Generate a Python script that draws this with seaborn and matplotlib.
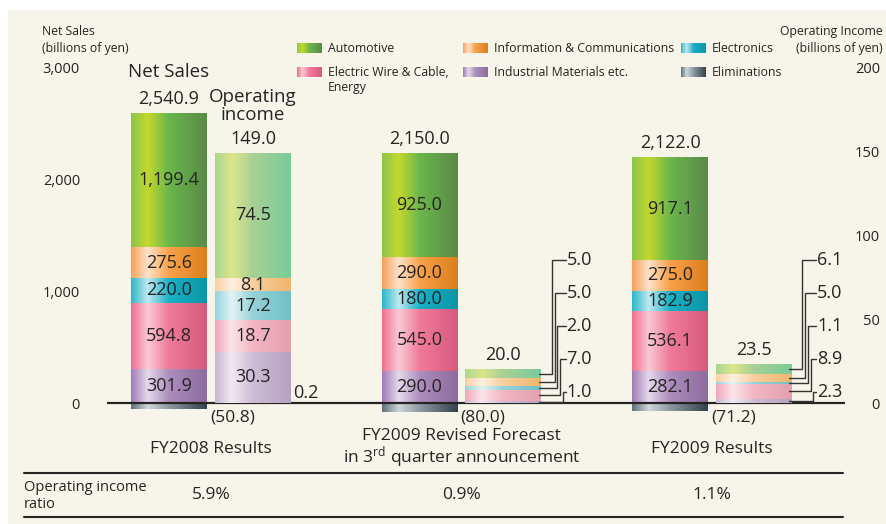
import numpy as np
import matplotlib
matplotlib.use("Agg")
import matplotlib.pyplot as plt
import seaborn as sns
from matplotlib.colors import LinearSegmentedColormap
from matplotlib.patches import Rectangle
from matplotlib.transforms import blended_transform_factory

sns.set_style("white")
plt.rcParams["font.family"] = ["Open Sans", "DejaVu Sans"]
plt.rcParams["mathtext.fontset"] = "custom"
plt.rcParams["mathtext.rm"] = "Open Sans"
plt.rcParams["mathtext.it"] = "Open Sans:italic"
plt.rcParams["mathtext.bf"] = "Open Sans:bold"

# ---- data (billions of yen) ----
groups = [
    "FY2008 Results",
    "FY2009 Revised Forecast\nin 3$^{\\mathrm{rd}}$ quarter announcement",
    "FY2009 Results",
]
segment_names = {
    "automotive": "Automotive",
    "info": "Information & Communications",
    "electronics": "Electronics",
    "wire": "Electric Wire & Cable,\nEnergy",
    "industrial": "Industrial Materials etc.",
    "elim": "Eliminations",
}

net_automotive = [1199.4, 925.0, 917.1]
net_info = [275.6, 290.0, 275.0]
net_electronics = [220.0, 180.0, 182.9]
net_wire = [594.8, 545.0, 536.1]
net_industrial = [301.9, 290.0, 282.1]
net_elim = [-50.8, -80.0, -71.2]

op_automotive = [74.5, 5.0, 6.1]
op_info = [8.1, 5.0, 5.0]
op_electronics = [17.2, 2.0, 1.1]
op_wire = [18.7, 7.0, 8.9]
op_industrial = [30.3, 1.0, 2.3]
op_elim = [0.2, 0.0, 0.1]

TXT = "#262324"
BG = "#f7f4e9"


def make_cmap(name, colors):
    return LinearSegmentedColormap.from_list(name, list(zip([0, 0.22, 0.5, 1.0], colors)))


net_cmaps = {
    "automotive": make_cmap("na", ["#8cc54a", "#c3d82e", "#6ab64c", "#5a8a48"]),
    "info": make_cmap("ni", ["#f6a05a", "#fde3cb", "#f8a24a", "#dc7d1c"]),
    "electronics": make_cmap("ne", ["#2ab6c8", "#bfe9f0", "#1ab0c5", "#0a95a6"]),
    "wire": make_cmap("nw", ["#ef6e8e", "#f9c9d6", "#f07a98", "#d65a7e"]),
    "industrial": make_cmap("nd", ["#a07bb5", "#e6d9ec", "#ac8dbc", "#8d6b9e"]),
    "elim": make_cmap("nx", ["#5f6f78", "#d0d6da", "#8d9aa1", "#33414a"]),
}
op_cmaps = {
    "automotive": make_cmap("oa", ["#a8d690", "#dde68c", "#a8d095", "#79cc9a"]),
    "info": make_cmap("oi", ["#f9cfa0", "#fdf0e2", "#f8cf9e", "#f1b56c"]),
    "electronics": make_cmap("oe", ["#92d4dc", "#e2f4f5", "#95d2d8", "#72bfc8"]),
    "wire": make_cmap("ow", ["#f0a8b8", "#fbe4ea", "#f3b6c3", "#e2a0b0"]),
    "industrial": make_cmap("od", ["#c9b6d2", "#f0eaf2", "#cdbdd4", "#b6a1c0"]),
    "elim": make_cmap("ox", ["#a7b2ae", "#dfe3e0", "#a9b3af", "#8d9894"]),
}


def gradient_fill(axis, patch, cmap):
    x0, y0 = patch.get_x(), patch.get_y()
    w, h = patch.get_width(), patch.get_height()
    if h == 0:
        return
    grad = np.linspace(0, 1, 256).reshape(1, -1)
    im = axis.imshow(grad, cmap=cmap, aspect="auto", interpolation="bilinear",
                     extent=(x0, x0 + w, min(y0, y0 + h), max(y0, y0 + h)), zorder=1.5)
    im.set_clip_path(patch)


def draw_stack(axis, xs, layers, cmaps, width):
    bottoms = np.zeros(len(xs))
    centers = {}
    for key, vals in layers:
        vals = np.asarray(vals, dtype=float)
        n0 = len(axis.patches)
        sns.barplot(x=list(xs), y=vals, native_scale=True, orient="x", width=width,
                    bottom=bottoms.copy(), color=cmaps[key](0.5), errorbar=None,
                    linewidth=0, ax=axis)
        for p in axis.patches[n0:]:
            gradient_fill(axis, p, cmaps[key])
        centers[key] = bottoms + vals / 2
        bottoms = bottoms + vals
    return bottoms, centers


W, H = 887, 524
fig = plt.figure(figsize=(W / 100, H / 100), dpi=100, facecolor="white")
fig.add_artist(Rectangle((8 / W, 0), 1 - 8 / W, 1 - 10 / H, transform=fig.transFigure,
                         facecolor=BG, edgecolor="none", zorder=-1))

ax = fig.add_axes([107 / W, 1 - 420 / H, (845 - 107) / W, 400 / H])
ax.set_facecolor("none")
ax2 = ax.twinx()

pos = np.arange(len(groups), dtype=float)
BAR_W = 0.303
OP_OFF = 0.335
net_x = pos
op_x = pos + OP_OFF

net_layers = [("industrial", net_industrial), ("wire", net_wire),
              ("electronics", net_electronics), ("info", net_info),
              ("automotive", net_automotive)]
op_layers = [("elim", op_elim), ("industrial", op_industrial), ("wire", op_wire),
             ("electronics", op_electronics), ("info", op_info),
             ("automotive", op_automotive)]

net_top, net_centers = draw_stack(ax, net_x, net_layers, net_cmaps, BAR_W)
op_top, op_centers = draw_stack(ax2, op_x, op_layers, op_cmaps, BAR_W)

# eliminations of net sales go below zero
n0 = len(ax.patches)
sns.barplot(x=list(net_x), y=net_elim, native_scale=True, orient="x", width=BAR_W,
            color=net_cmaps["elim"](0.5), errorbar=None, linewidth=0, ax=ax)
for p in ax.patches[n0:]:
    gradient_fill(ax, p, net_cmaps["elim"])

net_total = net_top + np.asarray(net_elim)
op_total = op_top

# value labels inside net sales bars
for key, vals in net_layers:
    for i, v in enumerate(vals):
        ax.text(net_x[i], net_centers[key][i], f"{v:,.1f}", ha="center", va="center",
                fontsize=13, color=TXT, zorder=6)

# FY2008 operating income labels inside bars
for key, vals in op_layers[1:]:
    ax2.text(op_x[0], op_centers[key][0], f"{vals[0]:.1f}", ha="center", va="center",
             fontsize=13, color=TXT, zorder=6)
ax2.annotate(f"{op_elim[0]:.1f}", (op_x[0] + BAR_W / 2, 0), xytext=(2, 10),
             textcoords="offset pixels", ha="left", va="center", fontsize=13, color=TXT)

# totals above bars
for i in range(len(groups)):
    ax.annotate(f"{net_total[i]:,.1f}", (net_x[i], net_top[i]), xytext=(0, 14),
                textcoords="offset pixels", ha="center", va="center", fontsize=13, color=TXT)
    ax2.annotate(f"{op_total[i]:.1f}", (op_x[i], op_top[i]), xytext=(0, 14),
                 textcoords="offset pixels", ha="center", va="center", fontsize=13, color=TXT)
    ax.annotate(f"({-net_elim[i]:.1f})", (net_x[i] + BAR_W / 2, 0), xytext=(3, -14),
                textcoords="offset pixels", ha="left", va="center", fontsize=12.5, color=TXT)

ax.annotate("Net Sales", (net_x[0], net_top[0]), xytext=(0, 41), textcoords="offset pixels",
            ha="center", va="center", fontsize=13.5, color=TXT)
ax2.annotate("Operating\nincome", (op_x[0], op_top[0]), xytext=(0, 47),
             textcoords="offset pixels", ha="center", va="center", fontsize=13.5,
             color=TXT, linespacing=1.0)

# leader lines for the small operating income bars
label_ys = [85.0, 65.5, 46.0, 26.2, 6.5]
elbows = [0.042, 0.054, 0.064, 0.075, 0.086]
order = ["automotive", "info", "electronics", "wire", "industrial"]
op_vals = dict(op_layers)
for i in [1, 2]:
    edge = op_x[i] + BAR_W / 2
    for key, ly, ex in zip(order, label_ys, elbows):
        yc = op_centers[key][i]
        ax2.plot([edge - 0.01, edge + ex, edge + ex, edge + 0.097], [yc, yc, ly, ly],
                 color="#333333", lw=1.0, zorder=7, solid_joinstyle="miter")
        ax2.text(edge + 0.1, ly, f"{op_vals[key][i]:.1f}", ha="left", va="center",
                 fontsize=13, color=TXT)

ax.axhline(0, color=TXT, lw=1.6, zorder=8)

# axes
ax.set_xlim(-0.2475, 2.6986)
ax.set_ylim(-151.8, 3420)
ax2.set_ylim(-10.12, 228)
ax.set_yticks([0, 1000, 2000, 3000], labels=[f"{t:,}" for t in [0, 1000, 2000, 3000]])
ax2.set_yticks([0, 50, 100, 150, 200], labels=[str(t) for t in [0, 50, 100, 150, 200]])
ax.tick_params(axis="y", length=0, pad=19.4, labelsize=10.5, labelcolor=TXT)
ax2.tick_params(axis="y", length=0, pad=25.2, labelsize=10.5, labelcolor=TXT)
for t in ax2.get_yticklabels():
    t.set_ha("right")
ax.set_xticks(pos + OP_OFF / 2, labels=groups)
ax.tick_params(axis="x", length=0, pad=20.8, labelsize=12.5, labelcolor=TXT)
for t in ax.get_xticklabels():
    t.set_va("center")
    t.set_linespacing(1.0)
ax.set_xlabel("")
ax.set_ylabel("")
ax2.set_xlabel("")
ax2.set_ylabel("")
sns.despine(ax=ax, top=True, right=True, left=True, bottom=True)
sns.despine(ax=ax2, top=True, right=True, left=True, bottom=True)

# overlay in pixel coordinates for titles, legend and ratio row
ov = fig.add_axes([0, 0, 1, 1])
ov.set_facecolor("none")
ov.axis("off")

ov.text(42, 40, "Net Sales\n(billions of yen)", ha="left", va="center", fontsize=8.8,
        color=TXT, linespacing=1.35)
ov.text(883, 40, "Operating Income\n(billions of yen)", ha="right", va="center",
        fontsize=8.8, color=TXT, linespacing=1.35, multialignment="right")

legend_items = [
    ("automotive", 297, 48), ("wire", 297, 72),
    ("info", 463, 48), ("industrial", 463, 72),
    ("electronics", 681, 48), ("elim", 681, 72),
]
for key, lx, ly in legend_items:
    ov.imshow(np.linspace(0, 1, 256).reshape(1, -1), cmap=net_cmaps[key], aspect="auto",
              extent=(lx, lx + 25, ly + 5, ly - 5), interpolation="bilinear")
    label = segment_names[key]
    ty = ly + 8 if "\n" in label else ly
    ov.text(lx + 31, ty, label, ha="left", va="center", fontsize=8.8, color=TXT,
            linespacing=1.3)

ov.plot([24, 843], [473, 473], color=TXT, lw=1.5)
ov.plot([24, 843], [517, 517], color=TXT, lw=1.5)
ov.text(24, 496, "Operating income\nratio", ha="left", va="center", fontsize=10.5,
        color=TXT, linespacing=1.1)
tr = blended_transform_factory(ax.transData, ov.transData)
for i in range(len(groups)):
    ratio = op_total[i] / net_total[i] * 100
    ov.text(pos[i] + OP_OFF / 2, 495, f"{ratio:.1f}%", transform=tr, ha="center",
            va="center", fontsize=12.5, color=TXT, fontweight="medium")

ov.set_xlim(0, W)
ov.set_ylim(H, 0)

fig.savefig("out.png", dpi=100, facecolor="white")
